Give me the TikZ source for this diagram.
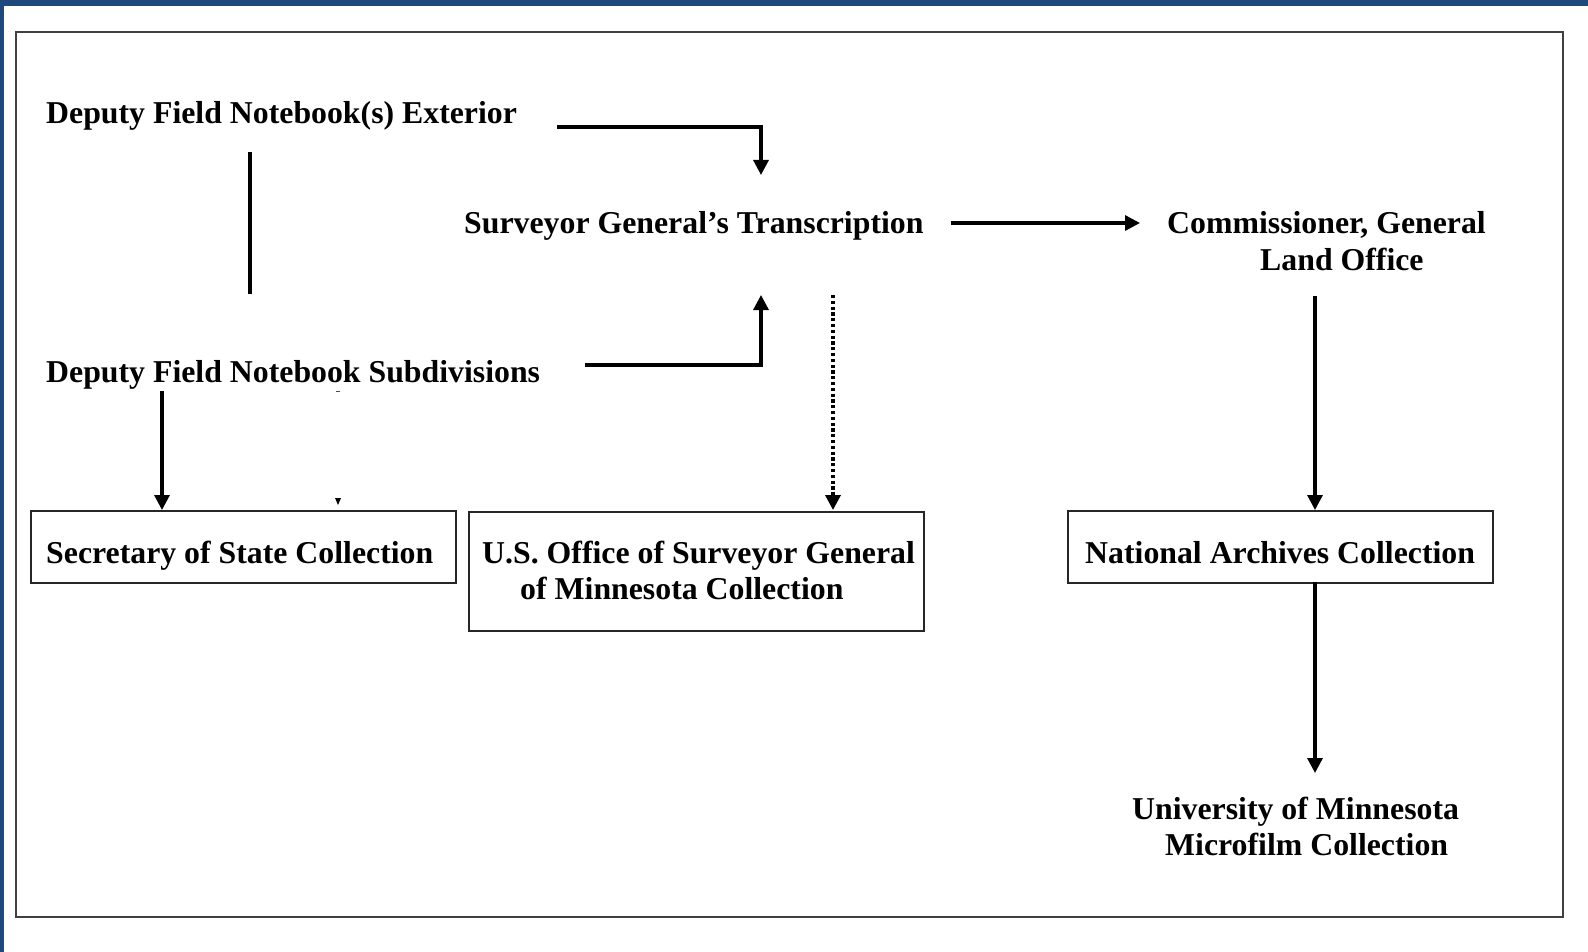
\documentclass[tikz,border=0pt]{standalone}
\usepackage{fontspec}
\setmainfont{Liberation Serif}
\usetikzlibrary{arrows.meta}
\definecolor{frameblue}{RGB}{31,73,125}
\definecolor{framegray}{RGB}{64,64,64}
\begin{document}
\begin{tikzpicture}[x=1pt,y=-1pt,
  lbl/.style={inner sep=0pt, anchor=base west, font=\fontsize{31.8}{36}\selectfont\bfseries},
  boxnode/.style={draw=black!85, line width=1.6pt, inner sep=0pt, anchor=north west},
  conn/.style={line width=3.2pt, draw=black, -{Triangle[length=15pt,width=15pt]}},
  dotconn/.style={line width=3.4pt, draw=black, dash pattern=on 3.2pt off 2.6pt, -{Triangle[length=15pt,width=15pt]}},
  plainline/.style={line width=3.2pt, draw=black}]
\fill[white] (0,0) rectangle (1588,952);
\useasboundingbox (0,0) rectangle (1588,952);
\fill[frameblue] (0,0) rectangle (1588,6);
\fill[frameblue] (0,0) rectangle (4,952);
\draw[line width=2.2pt, framegray] (16,32) rectangle (1563,917);

% boxes
\node[boxnode, minimum width=425pt, minimum height=72pt] (sosbox) at (30,510) {};
\node[boxnode, minimum width=455pt, minimum height=119pt] (usbox) at (468,511) {};
\node[boxnode, minimum width=425pt, minimum height=72pt] (nabox) at (1067,510) {};

% texts
\node[lbl] (ext) at (46,124) {Deputy Field Notebook(s) Exterior};
\node[lbl] (sub) at (46,382) {Deputy Field Notebook Subdivisions};
\node[lbl] (trans) at (464,234) {Surveyor General’s Transcription};
\node[lbl] (comm) at (1167,234) {\begin{tabular}[t]{@{}l@{}}Commissioner, General\\\hspace*{93pt}Land Office\end{tabular}};
\node[lbl] (sos) at (46,563) {Secretary of State Collection};
\node[lbl] (us) at (482,563) {\begin{tabular}[t]{@{}l@{}}U.S. Office of Surveyor General\\\hspace*{38pt}of Minnesota Collection\end{tabular}};
\node[lbl] (na) at (1085,563) {National Archives Collection};
\node[lbl] (univ) at (1132,819) {\begin{tabular}[t]{@{}l@{}}University of Minnesota\\\hspace*{33pt}Microfilm Collection\end{tabular}};

% connector end points
\coordinate (e1) at (557,127);
\coordinate (e2) at (761,175);
\coordinate (s1) at (585,365);
\coordinate (s2) at (761,295);
\coordinate (d1) at (833,295);
\coordinate (d2) at (833,510);
\coordinate (t1) at (951,223);
\coordinate (t2) at (1140,223);
\coordinate (c1) at (1315,296);
\coordinate (c2) at (1315,510);
\coordinate (n1) at (1315,582);
\coordinate (n2) at (1315,773);
\coordinate (b1) at (162,391);
\coordinate (b2) at (162,510);
\coordinate (v1) at (250,152);
\coordinate (v2) at (250,294);

\draw[conn] (e1) -| (e2);
\draw[conn] (s1) -| (s2);
\draw[dotconn] (d1) -- (d2);
\draw[conn] (t1) -- (t2);
\draw[conn] (c1) -- (c2);
\draw[conn] (n1) -- (n2);
\draw[conn] (b1) -- (b2);
\draw[plainline] (v1) -- (v2);

% small stray marks
\fill[black] (335,498) -- (341,498) -- (338,505) -- cycle;
\draw[line width=1pt, black!70] (336,391) -- (340,391);
\end{tikzpicture}
\end{document}
